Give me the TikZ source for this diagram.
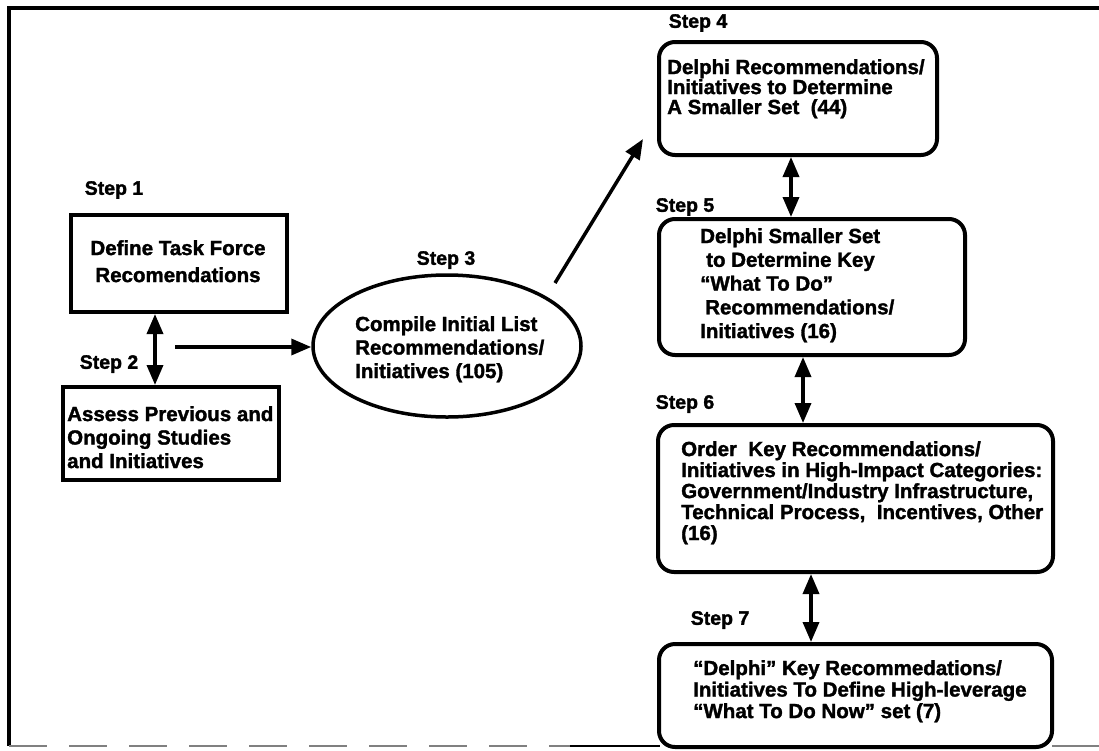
\documentclass[tikz,border=0pt]{standalone}
\usepackage{fontspec}
\setmainfont{Liberation Sans}[BoldFeatures={FakeBold=1.6}]
\usetikzlibrary{arrows.meta,calc,shapes.geometric}
\begin{document}
\begin{tikzpicture}[x=1pt,y=-1pt,
  sqbox/.style={draw, line width=4pt, inner sep=0pt, fill=white},
  rbox/.style={draw, line width=4pt, rounded corners=16pt, inner sep=0pt},
  ellbox/.style={draw, ellipse, line width=3.5pt, inner sep=0pt},
  txt/.style={font=\fontsize{20.5}{23.5}\selectfont\bfseries, align=left, inner sep=0pt, anchor=north west},
  steplbl/.style={font=\fontsize{19.5}{22}\selectfont\bfseries, inner sep=0pt},
  arr/.style={line width=3.5pt, -{Triangle[length=20pt,width=16pt]}},
  dbl/.style={line width=3.5pt, {Triangle[length=20pt,width=16pt]}-{Triangle[length=20pt,width=16pt]}},
]
\useasboundingbox (0,0) rectangle (1099,750);
\fill[white] (0,0) rectangle (1099,750);

% frame
\draw[line width=4pt] (7,8) -- (1099,8);
\draw[line width=4pt] (9,6) -- (9,746);
\draw[line width=2.5pt, gray, dash pattern=on 38pt off 22pt] (9,746) -- (570,746);
\draw[line width=2.5pt] (570,746) -- (660,746);
\draw[line width=2.5pt, gray] (1052,746) -- (1099,746);

% boxes
\node[sqbox, minimum width=216pt, minimum height=97pt] (b1) at (179,263.5) {};
\node[sqbox, minimum width=216pt, minimum height=93pt] (b2) at (171,433.5) {};
\node[ellbox, minimum width=268pt, minimum height=142pt] (ell) at (447,346) {};
\node[rbox, minimum width=278pt, minimum height=113pt] (b4) at (798,98.5) {};
\node[rbox, minimum width=306pt, minimum height=136pt] (b5) at (812,287) {};
\node[rbox, minimum width=395pt, minimum height=147pt] (b6) at (855.5,498.5) {};
\node[rbox, minimum width=393pt, minimum height=103pt] (b7) at (855.5,695.5) {};

% texts
\node[txt, align=center, anchor=north, font=\fontsize{20.5}{27}\selectfont\bfseries] (t1) at ($(b1.north west)+(109,27)$) {Define Task Force\\Recomendations};
\node[txt] (t2) at ($(b2.north west)+(6,21)$) {Assess Previous and\\Ongoing Studies\\and Initiatives};
\node[txt] (t3) at (355,316) {Compile Initial List\\Recommendations/\\Initiatives (105)};
\node[txt, font=\fontsize{20.5}{20}\selectfont\bfseries] (t4) at ($(b4.north west)+(10,19)$) {Delphi Recommendations/\\Initiatives to Determine\\A Smaller Set\ \ (44)};
\node[txt, font=\fontsize{20.5}{23.75}\selectfont\bfseries] (t5) at ($(b5.north west)+(43,11)$) {Delphi Smaller Set\\\hspace*{6pt}to Determine Key\\“What To Do”\\\hspace*{5pt}Recommendations/\\Initiatives (16)};
\node[txt, font=\fontsize{20.5}{21}\selectfont\bfseries] (t6) at ($(b6.north west)+(25,18)$) {Order\ \ Key Recommendations/\\Initiatives in High-Impact Categories:\\Government/Industry Infrastructure,\\Technical Process,\ \ Incentives, Other\\(16)};
\node[txt, font=\fontsize{20.5}{21.5}\selectfont\bfseries] (t7) at ($(b7.north west)+(36,18)$) {“Delphi” Key Recommedations/\\Initiatives To Define High-leverage\\“What To Do Now” set (7)};

% step labels
\node[steplbl] (s1) at (114,190) {Step 1};
\node[steplbl] (s2) at (109,364) {Step 2};
\node[steplbl] (s3) at (446,260) {Step 3};
\node[steplbl] (s4) at (698,23) {Step 4};
\node[steplbl] (s5) at (685,207) {Step 5};
\node[steplbl] (s6) at (685,404) {Step 6};
\node[steplbl] (s7) at (720,620) {Step 7};

% connectors
\draw[dbl] ([xshift=86pt]b1.south west) -- ([xshift=94pt]b2.north west);
\coordinate (h0) at (175,347);
\draw[arr] (h0) -- (h0 -| ell.west);
\coordinate (a3) at (555,283);
\coordinate (a4) at ($(b4.south west)+(-14,-18)$);
\draw[arr] (a3) -- (a4);
\draw[dbl] ([xshift=134pt]b4.south west) -- ([xshift=134pt]b5.north west);
\draw[dbl] ([xshift=146pt]b5.south west) -- ([xshift=147pt]b6.north west);
\draw[dbl] ([xshift=155pt]b6.south west) -- ([xshift=154pt]b7.north west);
\end{tikzpicture}
\end{document}
